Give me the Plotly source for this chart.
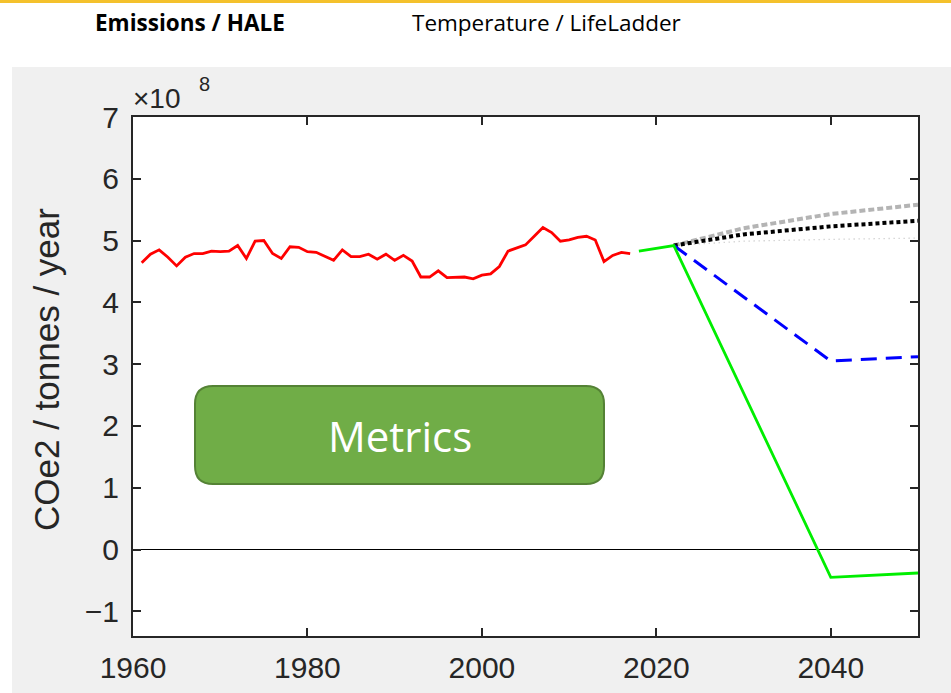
import plotly.graph_objects as go

# ---- data (CO2e emissions, units of 1e8 tonnes / year) ----
hist_years = list(range(1961, 2018))
hist_vals = [4.64, 4.78, 4.85, 4.73, 4.59, 4.73, 4.79, 4.79, 4.83, 4.82,
             4.83, 4.92, 4.71, 4.99, 5.00, 4.79, 4.71, 4.90, 4.89, 4.82,
             4.81, 4.74, 4.68, 4.85, 4.74, 4.74, 4.78, 4.70, 4.78, 4.68,
             4.76, 4.67, 4.41, 4.41, 4.51, 4.40, 4.41, 4.41, 4.38, 4.44,
             4.46, 4.58, 4.83, 4.88, 4.93, 5.07, 5.21, 5.13, 4.99, 5.01,
             5.05, 5.07, 5.01, 4.66, 4.76, 4.81, 4.79]

green_years = [2018, 2022, 2040, 2050]
green_vals = [4.83, 4.92, -0.45, -0.38]

blue_years = [2022, 2040, 2050]
blue_vals = [4.92, 3.05, 3.12]

proj_years = [2022, 2030, 2040, 2050]
gray_vals = [4.92, 5.20, 5.43, 5.58]
black_vals = [4.92, 5.10, 5.23, 5.32]
thin_vals = [4.92, 4.99, 5.02, 5.04]

x_ticks = [1960, 1980, 2000, 2020, 2040]
y_ticks = [-1, 0, 1, 2, 3, 4, 5, 6, 7]

# ---- layout geometry (pixels) ----
W, H = 951, 693
L, R, T, B = 133, 33, 117, 57
PW, PH = W - L - R, H - T - B


def px(x):
    return (x - L) / PW


def py(y):
    return (H - B - y) / PH


fig = go.Figure()

fig.add_trace(go.Scatter(x=proj_years, y=thin_vals, mode="lines",
                         line=dict(color="#c0c0c0", width=1.3, dash="1px,4px")))
fig.add_trace(go.Scatter(x=proj_years, y=gray_vals, mode="lines",
                         line=dict(color="#b4b4b4", width=4, dash="6px,3px")))
fig.add_trace(go.Scatter(x=proj_years, y=black_vals, mode="lines",
                         line=dict(color="#000000", width=4, dash="4px,3px")))
fig.add_trace(go.Scatter(x=blue_years, y=blue_vals, mode="lines",
                         line=dict(color="#0000ff", width=3, dash="16px,9px")))
fig.add_trace(go.Scatter(x=green_years, y=green_vals, mode="lines",
                         line=dict(color="#00ee00", width=2.8)))
fig.add_trace(go.Scatter(x=hist_years, y=hist_vals, mode="lines",
                         line=dict(color="#ff0000", width=2.8)))

axis_font = dict(family="Liberation Sans, Arial, sans-serif", size=30, color="#262626")

fig.update_xaxes(range=[1960, 2050], tickvals=x_ticks, ticks="inside", ticklen=8,
                 tickwidth=2, tickcolor="#262626", showline=True, linewidth=2,
                 linecolor="#262626", mirror="ticks", showgrid=False, zeroline=False,
                 tickfont=axis_font, ticklabelstandoff=4, automargin=False)
fig.update_yaxes(range=[-1.4, 7], tickvals=y_ticks, ticks="inside", ticklen=8,
                 tickwidth=2, tickcolor="#262626", showline=True, linewidth=2,
                 linecolor="#262626", mirror="ticks", showgrid=False,
                 zeroline=True, zerolinecolor="#000000", zerolinewidth=1,
                 tickfont=axis_font, ticklabelstandoff=6, automargin=False)

# rounded "Metrics" box path (paper coords)
bx0, bx1, by0, by1, r = 195, 604, 386, 484, 18


def rounded_path(x0, x1, y0, y1, rad):
    pts = []
    pts.append(f"M {px(x0 + rad)},{py(y0)}")
    pts.append(f"L {px(x1 - rad)},{py(y0)}")
    pts.append(f"Q {px(x1)},{py(y0)} {px(x1)},{py(y0 + rad)}")
    pts.append(f"L {px(x1)},{py(y1 - rad)}")
    pts.append(f"Q {px(x1)},{py(y1)} {px(x1 - rad)},{py(y1)}")
    pts.append(f"L {px(x0 + rad)},{py(y1)}")
    pts.append(f"Q {px(x0)},{py(y1)} {px(x0)},{py(y1 - rad)}")
    pts.append(f"L {px(x0)},{py(y0 + rad)}")
    pts.append(f"Q {px(x0)},{py(y0)} {px(x0 + rad)},{py(y0)}")
    pts.append("Z")
    return " ".join(pts)


shapes = [
    # white header strip and left margin strip over the grey page
    dict(type="rect", xref="paper", yref="paper", x0=px(0), x1=px(W), y0=py(67), y1=py(0),
         fillcolor="white", line_width=0, layer="below"),
    dict(type="rect", xref="paper", yref="paper", x0=px(0), x1=px(12), y0=py(H), y1=py(67),
         fillcolor="white", line_width=0, layer="below"),
    # yellow rule at top
    dict(type="rect", xref="paper", yref="paper", x0=px(0), x1=px(W), y0=py(3), y1=py(0),
         fillcolor="#f4c12c", line_width=0, layer="above"),
    # Metrics box
    dict(type="path", xref="paper", yref="paper", path=rounded_path(bx0, bx1, by0, by1, r),
         fillcolor="#70ad47", line=dict(color="#548235", width=2), layer="above"),
]

header_font = "Open Sans, sans-serif"
mat_font = "Liberation Sans, Arial, sans-serif"
annotations = [
    dict(text="<b>Emissions / HALE</b>", xref="paper", yref="paper", x=px(93), y=py(22),
         xanchor="left", yanchor="middle", showarrow=False,
         font=dict(family=header_font, size=22.5, color="#000000")),
    dict(text="Temperature / LifeLadder", xref="paper", yref="paper", x=px(410), y=py(22),
         xanchor="left", yanchor="middle", showarrow=False,
         font=dict(family=header_font, size=22.5, color="#000000")),
    dict(text="×10", xref="paper", yref="paper", x=px(131), y=py(99),
         xanchor="left", yanchor="middle", showarrow=False,
         font=dict(family=mat_font, size=28, color="#262626")),
    dict(text="8", xref="paper", yref="paper", x=px(197), y=py(84),
         xanchor="left", yanchor="middle", showarrow=False,
         font=dict(family=mat_font, size=20, color="#262626")),
    dict(text="COe2 / tonnes / year", xref="paper", yref="paper", x=px(46), y=py(370),
         xanchor="center", yanchor="middle", textangle=-90, showarrow=False,
         font=dict(family=mat_font, size=35, color="#262626")),
    dict(text="Metrics", xref="paper", yref="paper", x=px((bx0 + bx1) / 2), y=py((by0 + by1) / 2),
         xanchor="center", yanchor="middle", showarrow=False,
         font=dict(family="Open Sans, sans-serif", size=42, color="#ffffff")),
]

fig.update_layout(width=W, height=H, autosize=False,
                  margin=dict(l=L, r=R, t=T, b=B, pad=0, autoexpand=False),
                  paper_bgcolor="#f0f0f0", plot_bgcolor="#ffffff",
                  showlegend=False, shapes=shapes, annotations=annotations)

fig.write_html("out.html", config={"displayModeBar": False},
               post_script="document.body.style.margin='0px';document.body.style.overflow='hidden';")
